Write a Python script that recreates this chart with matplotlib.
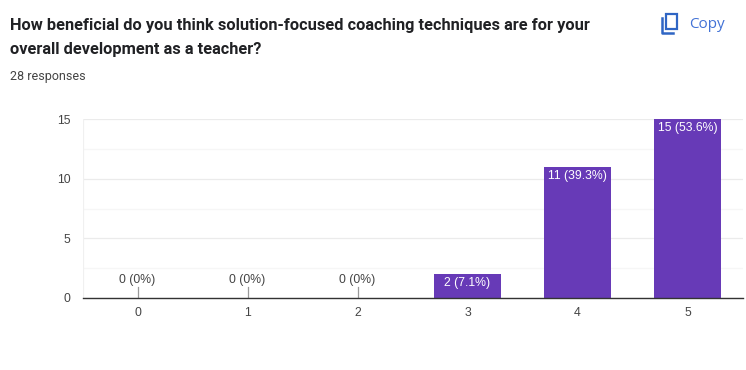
import matplotlib
matplotlib.use("Agg")
import matplotlib.pyplot as plt
from matplotlib.patches import Rectangle

categories = [0, 1, 2, 3, 4, 5]
counts = [0, 0, 0, 2, 11, 15]
labels = ["0 (0%)", "0 (0%)", "0 (0%)", "2 (7.1%)", "11 (39.3%)", "15 (53.6%)"]
y_ticks = [0, 5, 10, 15]
y_minor = [2.5, 7.5, 12.5]
title_lines = ["How beneficial do you think solution-focused coaching techniques are for your",
               "overall development as a teacher?"]
responses = "28 responses"

W, H = 746, 370
plt.rcParams['font.family'] = ['Liberation Sans', 'DejaVu Sans']
fig = plt.figure(figsize=(W / 100, H / 100), dpi=100, facecolor='white')
ax = fig.add_axes([82.5 / W, 1 - 298 / H, 660 / W, 179 / H])
ax.set_xlim(-0.5, 5.5)
ax.set_ylim(0, 15)
ax.set_facecolor('white')
for s in ax.spines.values():
    s.set_visible(False)
ax.set_axisbelow(True)
ax.set_yticks(y_ticks)
ax.set_yticks(y_minor, minor=True)
ax.grid(axis='y', which='major', color='#ebebeb', lw=0.9)
ax.grid(axis='y', which='minor', color='#f6f6f6', lw=0.9)
ax.tick_params(axis='y', which='both', length=0, pad=8.5, labelsize=8.8, labelcolor='#444444')
ax.set_xticks(categories)
ax.tick_params(axis='x', length=0, pad=6.5, labelsize=8.8, labelcolor='#444444')
ax.axvline(-0.5, color='#f0f0f0', lw=0.9, zorder=1)

ax.bar(categories, counts, width=0.618, color='#673ab7', zorder=3)
ax.axhline(0, color='#333333', lw=1.0, zorder=4, clip_on=False)

for c, v, t in zip(categories, counts, labels):
    if v == 0:
        ax.plot([c, c], [0, 0.95], color='#999999', lw=0.9, zorder=3)
        ax.text(c, 0.98, t, ha='center', va='bottom', fontsize=8.8, color='#444444')
    else:
        ax.text(c, v - 0.28, t, ha='center', va='top', fontsize=8.8, color='white', zorder=5)

fig.text(10 / W, 1 - 25.5 / H, title_lines[0], fontsize=11.83, fontweight='bold', color='#202124', va='center', family=['Roboto', 'DejaVu Sans'])
fig.text(10 / W, 1 - 49.5 / H, title_lines[1], fontsize=11.83, fontweight='bold', color='#202124', va='center', family=['Roboto', 'DejaVu Sans'])
fig.text(10 / W, 1 - 76.5 / H, responses, fontsize=9, color='#444444', va='center', family=['Roboto', 'DejaVu Sans'])
fig.text(689.5 / W, 1 - 24.5 / H, "Copy", fontsize=11, color='#4272d6', va='center', family=['Open Sans', 'DejaVu Sans'])

# copy icon
ov = fig.add_axes([0, 0, 1, 1], facecolor='none')
ov.set_xlim(0, W); ov.set_ylim(H, 0); ov.axis('off')
ov.add_patch(Rectangle((666, 14), 11, 15, fill=False, ec='#2f65c4', lw=1.6))
ov.plot([662, 662, 673], [18, 33, 33], color='#2f65c4', lw=1.8, solid_joinstyle='round')

fig.savefig('out.png', dpi=100, facecolor='white')
